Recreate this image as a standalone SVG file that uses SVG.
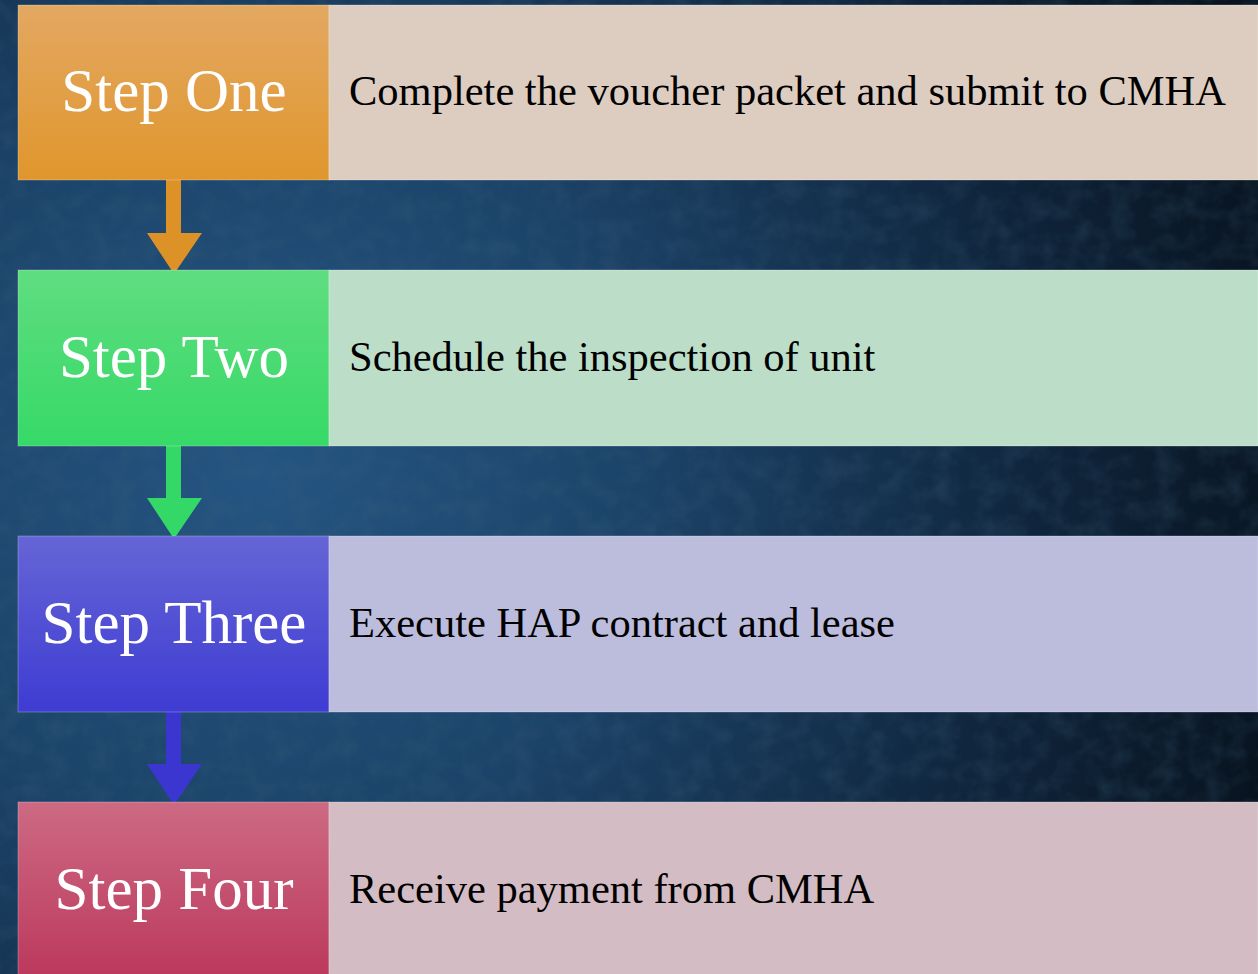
<svg xmlns="http://www.w3.org/2000/svg" width="1258" height="974" viewBox="0 0 1258 974">
  <defs>
    <radialGradient id="bg" cx="260" cy="470" r="1050" gradientUnits="userSpaceOnUse">
      <stop offset="0" stop-color="#245582"/>
      <stop offset="0.35" stop-color="#1c446a"/>
      <stop offset="0.75" stop-color="#0f243b"/>
      <stop offset="1" stop-color="#08131f"/>
    </radialGradient>
    <filter id="grain" x="0" y="0" width="100%" height="100%">
      <feTurbulence type="fractalNoise" baseFrequency="0.045 0.05" numOctaves="3" seed="7"/>
      <feColorMatrix type="matrix" values="0 0 0 0 0.05  0 0 0 0 0.12  0 0 0 0 0.2  0 0 0 -1.6 1.0"/>
    </filter>
    <linearGradient id="g1" x1="0" y1="0" x2="0" y2="1">
      <stop offset="0" stop-color="#e3a861"/>
      <stop offset="1" stop-color="#e0962d"/>
    </linearGradient>
    <linearGradient id="g2" x1="0" y1="0" x2="0" y2="1">
      <stop offset="0" stop-color="#5fdd80"/>
      <stop offset="1" stop-color="#36d967"/>
    </linearGradient>
    <linearGradient id="g3" x1="0" y1="0" x2="0" y2="1">
      <stop offset="0" stop-color="#6565d6"/>
      <stop offset="1" stop-color="#3e3cd2"/>
    </linearGradient>
    <linearGradient id="g4" x1="0" y1="0" x2="0" y2="1">
      <stop offset="0" stop-color="#cd6a83"/>
      <stop offset="1" stop-color="#bb375c"/>
    </linearGradient>
    <style>
      .step { font-family: "Liberation Serif", "Times New Roman", serif; font-size: 61px; fill: #ffffff; text-anchor: middle; }
      .desc { font-family: "Liberation Serif", "Times New Roman", serif; font-size: 42.5px; fill: #000000; }
      .edge { stroke: #ffffff; stroke-opacity: 0.25; stroke-width: 1; }
    </style>
  </defs>

  <!-- background -->
  <rect x="0" y="0" width="1258" height="974" fill="url(#bg)"/>
  <rect x="0" y="0" width="1258" height="974" filter="url(#grain)" opacity="0.3"/>

  <!-- connectors -->
  <g id="connectors">
    <path d="M166 180 H181 V233 H202 L174 274 L147 233 H166 Z" fill="#dd9228"/>
    <path d="M166 446 H181 V498 H202 L174 539 L147 498 H166 Z" fill="#34d866"/>
    <path d="M166 712 H181 V764 H202 L174 805 L147 764 H166 Z" fill="#3a36cf"/>
  </g>

  <g id="step1">
    <rect x="18" y="5" width="311" height="175" fill="url(#g1)" class="edge"/>
    <rect x="329" y="5" width="929" height="175" fill="#ddcdc0" class="edge"/>
    <text class="step" x="174" y="111">Step One</text>
    <text class="desc" x="349" y="105">Complete the voucher packet and submit to CMHA</text>
  </g>

  <g id="step2">
    <rect x="18" y="270" width="311" height="176" fill="url(#g2)" class="edge"/>
    <rect x="329" y="270" width="929" height="176" fill="#bcdec8" class="edge"/>
    <text class="step" x="174" y="377">Step Two</text>
    <text class="desc" x="349" y="371">Schedule the inspection of unit</text>
  </g>

  <g id="step3">
    <rect x="18" y="536" width="311" height="176" fill="url(#g3)" class="edge"/>
    <rect x="329" y="536" width="929" height="176" fill="#bcbcdd" class="edge"/>
    <text class="step" x="174" y="643">Step Three</text>
    <text class="desc" x="349" y="637">Execute HAP contract and lease</text>
  </g>

  <g id="step4">
    <rect x="18" y="802" width="311" height="180" fill="url(#g4)" class="edge"/>
    <rect x="329" y="802" width="929" height="180" fill="#d4bcc4" class="edge"/>
    <text class="step" x="174" y="909">Step Four</text>
    <text class="desc" x="349" y="903">Receive payment from CMHA</text>
  </g>
</svg>
